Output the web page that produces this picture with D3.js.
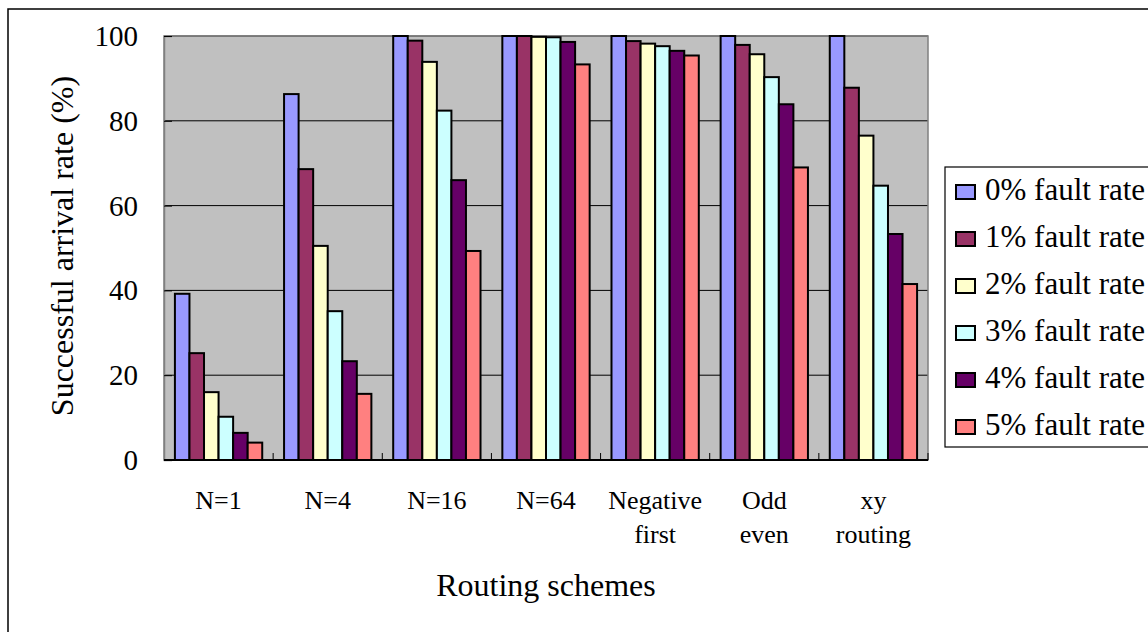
<!DOCTYPE html>
<meta charset="utf-8">
<style>
body { margin: 0; background: #fff; }
svg text { font-family: "Liberation Serif", "Times New Roman", serif; fill: #000; }
</style>
<script src="https://d3js.org/d3.v7.min.js"></script>
<body>
<script>
const categories = ['N=1', 'N=4', 'N=16', 'N=64', 'Negative first', 'Odd even', 'xy routing'];
const tickLines = [['N=1'], ['N=4'], ['N=16'], ['N=64'], ['Negative', 'first'], ['Odd', 'even'], ['xy', 'routing']];
const seriesNames = ['0% fault rate', '1% fault rate', '2% fault rate', '3% fault rate', '4% fault rate', '5% fault rate'];
const seriesColors = ['#9999FF', '#993366', '#FFFFCC', '#CCFFFF', '#660066', '#FF8080'];

const rate0 = [39.2, 86.3, 100, 100, 100, 100, 100];
const rate1 = [25.2, 68.6, 98.9, 100, 98.8, 97.9, 87.8];
const rate2 = [16.0, 50.5, 93.9, 99.8, 98.2, 95.7, 76.5];
const rate3 = [10.2, 35.1, 82.4, 99.7, 97.6, 90.3, 64.7];
const rate4 = [6.4, 23.3, 66.0, 98.6, 96.5, 83.9, 53.3];
const rate5 = [4.1, 15.6, 49.3, 93.3, 95.4, 69.0, 41.5];
const seriesValues = [rate0, rate1, rate2, rate3, rate4, rate5];

const yTicks = [0, 20, 40, 60, 80, 100];

const W = 1148, H = 632;
const plot = { left: 164, right: 928, top: 36, bottom: 460 };
const serif = '"Liberation Serif", "Times New Roman", serif';

const svg = d3.select('body').append('svg')
  .attr('width', W)
  .attr('height', H)
  .attr('font-family', serif);

// outer chart frame (runs off the right and bottom edges)
svg.append('path')
  .attr('d', `M8,${H + 5} L8,9 L${W + 5},9`)
  .attr('fill', 'none')
  .attr('stroke', '#000')
  .attr('stroke-width', 1.5);

const x = d3.scaleBand()
  .domain(categories)
  .range([plot.left, plot.right]);

const xInner = d3.scaleBand()
  .domain(seriesNames)
  .range([0, x.bandwidth()])
  .paddingInner(0)
  .paddingOuter(0.75);

const y = d3.scaleLinear()
  .domain([0, 100])
  .range([plot.bottom, plot.top]);

// plot background
svg.append('rect')
  .attr('x', plot.left)
  .attr('y', plot.top)
  .attr('width', plot.right - plot.left)
  .attr('height', plot.bottom - plot.top)
  .attr('fill', '#C0C0C0');

// gridlines
svg.append('g')
  .selectAll('line')
  .data(yTicks.filter(d => d > 0))
  .join('line')
    .attr('x1', plot.left)
    .attr('x2', plot.right)
    .attr('y1', d => y(d))
    .attr('y2', d => y(d))
    .attr('stroke', '#000')
    .attr('stroke-width', 1);

// plot border
svg.append('rect')
  .attr('x', plot.left)
  .attr('y', plot.top)
  .attr('width', plot.right - plot.left)
  .attr('height', plot.bottom - plot.top)
  .attr('fill', 'none')
  .attr('stroke', '#808080')
  .attr('stroke-width', 1.5);

// bars
const groups = svg.append('g')
  .selectAll('g')
  .data(seriesValues)
  .join('g')
    .attr('fill', (d, i) => seriesColors[i]);

groups.selectAll('rect')
  .data((vals, si) => vals.map((v, ci) => ({ v, cat: categories[ci], s: seriesNames[si] })))
  .join('rect')
    .attr('x', d => x(d.cat) + xInner(d.s))
    .attr('width', xInner.bandwidth())
    .attr('y', d => y(d.v))
    .attr('height', d => y(0) - y(d.v))
    .attr('stroke', '#000')
    .attr('stroke-width', 2);

// y axis: inside ticks, labels on the left
const yAxis = svg.append('g')
  .attr('transform', `translate(${plot.left},0)`)
  .call(d3.axisRight(y).tickValues(yTicks).tickSize(8).tickFormat(d3.format('d')))
  .attr('font-family', serif)
  .attr('font-size', 29);
yAxis.select('.domain').attr('stroke', '#808080').attr('stroke-width', 1.5);
yAxis.selectAll('.tick line').attr('stroke', '#000');
yAxis.selectAll('.tick text')
  .attr('x', -26)
  .attr('dy', '0.33em')
  .attr('text-anchor', 'end');

// x axis line and boundary ticks
svg.append('line')
  .attr('x1', plot.left)
  .attr('x2', plot.right)
  .attr('y1', plot.bottom)
  .attr('y2', plot.bottom)
  .attr('stroke', '#000')
  .attr('stroke-width', 2);

svg.append('g')
  .selectAll('line')
  .data(categories)
  .join('line')
    .attr('x1', d => x(d) + x.bandwidth())
    .attr('x2', d => x(d) + x.bandwidth())
    .attr('y1', plot.bottom)
    .attr('y2', plot.bottom - 7)
    .attr('stroke', '#000')
    .attr('stroke-width', 1);

// x tick labels
svg.append('g')
  .attr('font-size', 26)
  .selectAll('text')
  .data(categories)
  .join('text')
    .attr('x', d => x(d) + x.bandwidth() / 2)
    .attr('y', 509)
    .attr('text-anchor', 'middle')
    .each(function(d, i) {
      d3.select(this).selectAll('tspan')
        .data(tickLines[i])
        .join('tspan')
          .attr('x', x(d) + x.bandwidth() / 2)
          .attr('dy', (t, j) => j === 0 ? 0 : 34)
          .text(t => t);
    });

// axis titles
svg.append('text')
  .attr('x', (plot.left + plot.right) / 2)
  .attr('y', 596)
  .attr('text-anchor', 'middle')
  .attr('font-size', 32)
  .text('Routing schemes');

svg.append('text')
  .attr('transform', `translate(73,246) rotate(-90)`)
  .attr('text-anchor', 'middle')
  .attr('font-size', 32)
  .text('Successful arrival rate (%)');

// legend
const legend = svg.append('g');
legend.append('rect')
  .attr('x', 945)
  .attr('y', 167)
  .attr('width', 260)
  .attr('height', 280)
  .attr('fill', '#fff')
  .attr('stroke', '#000')
  .attr('stroke-width', 1.2);

const items = legend.selectAll('g.item')
  .data(seriesNames)
  .join('g')
    .attr('class', 'item')
    .attr('transform', (d, i) => `translate(0,${200 + i * 47})`);

items.append('rect')
  .attr('x', 956)
  .attr('y', -15)
  .attr('width', 19)
  .attr('height', 14)
  .attr('fill', (d, i) => seriesColors[i])
  .attr('stroke', '#000')
  .attr('stroke-width', 2);

items.append('text')
  .attr('x', 985)
  .attr('y', 0)
  .attr('font-size', 31)
  .text(d => d);
</script>
</body>
